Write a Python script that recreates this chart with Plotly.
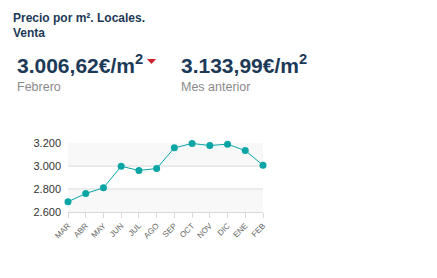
import plotly.graph_objects as go

months = ["MAR", "ABR", "MAY", "JUN", "JUL", "AGO", "SEP", "OCT", "NOV", "DIC", "ENE", "FEB"]
prices = [2689, 2761, 2810, 2998, 2961, 2978, 3158, 3196, 3178, 3190, 3133.99, 3006.62]
y_ticks = [2600, 2800, 3000, 3200]
y_tick_labels = ["2.600", "2.800", "3.000", "3.200"]
title_lines = ["Precio por m². Locales.", "Venta"]
current_label = "3.006,62€/m<sup>2</sup>"
current_caption = "Febrero"
previous_label = "3.133,99€/m<sup>2</sup>"
previous_caption = "Mes anterior"

W, H = 437, 278
L, R, T, B = 68, 263, 143, 212

def px(x):
    return (x - L) / (R - L)

def py(y):
    return (B - y) / (B - T)

FONT = "Liberation Sans, Arial, sans-serif"
NAVY = "#1c3a58"
TEAL = "#0ba5a6"

fig = go.Figure()
fig.add_trace(go.Scatter(
    x=list(range(len(months))), y=prices, mode="lines+markers",
    line=dict(color=TEAL, width=1),
    marker=dict(color=TEAL, size=7),
    cliponaxis=False, hoverinfo="skip",
))

shapes = []
# alternating bands
for lo, hi in [(2600, 2800), (3000, 3200)]:
    shapes.append(dict(type="rect", xref="paper", yref="y", x0=0, x1=1, y0=lo, y1=hi,
                       fillcolor="#f8f8f8", line=dict(width=0), layer="below"))
# red triangle
shapes.append(dict(type="path", xref="paper", yref="paper",
                   path=f"M {px(147)} {py(59)} L {px(156)} {py(59)} L {px(151.5)} {py(64)} Z",
                   fillcolor="#d0202a", line=dict(width=0)))

ann = []
ann.append(dict(text=title_lines[0], x=px(11), y=py(18), xanchor="left", yanchor="middle",
                font=dict(size=12, color=NAVY, family=FONT, weight="bold")))
ann.append(dict(text=title_lines[1], x=px(11), y=py(33), xanchor="left", yanchor="middle",
                font=dict(size=12, color=NAVY, family=FONT, weight="bold")))
ann.append(dict(text=current_label, x=px(15), y=py(64), xanchor="left", yanchor="middle",
                font=dict(size=21, color=NAVY, family=FONT, weight="bold")))
ann.append(dict(text=current_caption, x=px(15), y=py(87), xanchor="left", yanchor="middle",
                font=dict(size=12.5, color="#8a8a8a", family=FONT)))
ann.append(dict(text=previous_label, x=px(179), y=py(64), xanchor="left", yanchor="middle",
                font=dict(size=21, color=NAVY, family=FONT, weight="bold")))
ann.append(dict(text=previous_caption, x=px(179), y=py(87), xanchor="left", yanchor="middle",
                font=dict(size=12.5, color="#8a8a8a", family=FONT)))
for a in ann:
    a.update(xref="paper", yref="paper", showarrow=False)

fig.update_layout(
    width=W, height=H,
    margin=dict(l=L, r=W - R, t=T, b=H - B, pad=0),
    paper_bgcolor="white", plot_bgcolor="white",
    showlegend=False, shapes=shapes, annotations=ann,
    font=dict(family=FONT),
)
fig.update_xaxes(
    range=[0, len(months) - 1], tickmode="array", tickvals=list(range(len(months))),
    ticktext=months, tickangle=-45, tickfont=dict(size=8, color="#666666"),
    showgrid=False, zeroline=False, showline=True, linecolor="#d8d8d8", linewidth=1,
    ticks="outside", ticklen=5, tickcolor="#d8d8d8", fixedrange=True,
)
fig.update_yaxes(
    range=[2600, 3200], tickmode="array", tickvals=y_ticks, ticktext=y_tick_labels,
    tickfont=dict(size=11, color="#333333"), showgrid=True, gridcolor="#ebebeb", gridwidth=2,
    zeroline=False, showline=False, ticklabelstandoff=6, fixedrange=True,
)
fig.write_html("out.html", config={"displayModeBar": False})
